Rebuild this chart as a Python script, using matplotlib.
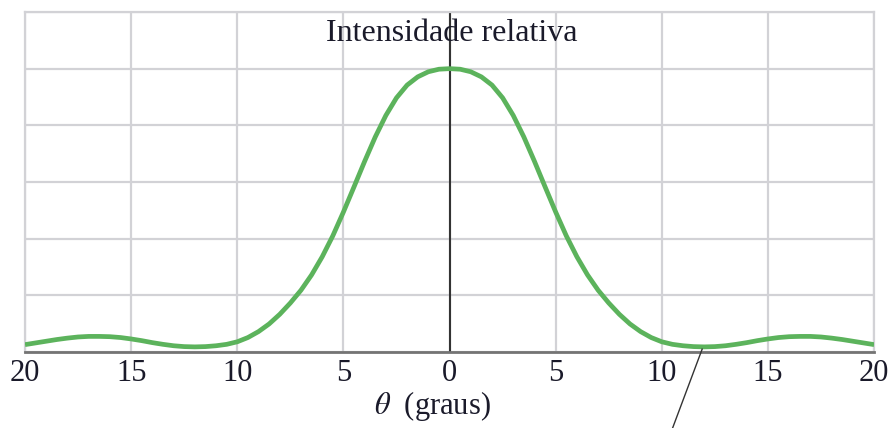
import matplotlib
matplotlib.use("Agg")
import matplotlib.pyplot as plt
import numpy as np

# angulo (graus) e intensidade relativa, de meio em meio grau
theta = [-20.0, -19.5, -19.0, -18.5, -18.0, -17.5, -17.0, -16.5, -16.0, -15.5, -15.0, -14.5,
         -14.0, -13.5, -13.0, -12.5, -12.0, -11.5, -11.0, -10.5, -10.0, -9.5, -9.0, -8.5,
         -8.0, -7.5, -7.0, -6.5, -6.0, -5.5, -5.0, -4.5, -4.0, -3.5, -3.0, -2.5, -2.0, -1.5,
         -1.0, -0.5, 0.0, 0.5, 1.0, 1.5, 2.0, 2.5, 3.0, 3.5, 4.0, 4.5, 5.0, 5.5, 6.0, 6.5,
         7.0, 7.5, 8.0, 8.5, 9.0, 9.5, 10.0, 10.5, 11.0, 11.5, 12.0, 12.5, 13.0, 13.5, 14.0,
         14.5, 15.0, 15.5, 16.0, 16.5, 17.0, 17.5, 18.0, 18.5, 19.0, 19.5, 20.0]
intensidade = [0.026, 0.032, 0.038, 0.044, 0.049, 0.053, 0.055, 0.055, 0.054, 0.051, 0.046,
               0.040, 0.033, 0.027, 0.022, 0.019, 0.018, 0.019, 0.022, 0.027, 0.036, 0.051,
               0.072, 0.099, 0.133, 0.173, 0.218, 0.272, 0.336, 0.410, 0.494, 0.583, 0.673,
               0.759, 0.835, 0.897, 0.942, 0.971, 0.989, 0.998, 1.0,
               0.998, 0.989, 0.971, 0.942, 0.897, 0.835, 0.759, 0.673, 0.583, 0.494, 0.410,
               0.336, 0.272, 0.218, 0.173, 0.133, 0.099, 0.072, 0.051, 0.036, 0.027, 0.022,
               0.019, 0.018, 0.019, 0.022, 0.027, 0.033, 0.040, 0.046, 0.051, 0.054, 0.055,
               0.055, 0.053, 0.049, 0.044, 0.038, 0.032, 0.026]

ticks_x = [-20, -15, -10, -5, 0, 5, 10, 15, 20]
ticks_x_rotulos = ["20", "15", "10", "5", "0", "5", "10", "15", "20"]
ticks_y = [0.0, 0.2, 0.4, 0.6, 0.8, 1.0, 1.2]

# seta que aponta para o primeiro minimo
seta_x = [11.9, 10.5]
seta_y = [0.01, -0.27]

plt.rcParams["font.family"] = ["Liberation Serif", "DejaVu Serif"]
plt.rcParams["mathtext.fontset"] = "stix"

fig = plt.figure(figsize=(8.91, 4.28), dpi=100)
ax = fig.add_axes([0.0281, 0.1776, 0.9529, 0.7944])

ax.set_xlim(-20, 20)
ax.set_ylim(0, 1.2)
ax.set_xticks(ticks_x)
ax.set_xticklabels(ticks_x_rotulos, fontsize=22, color="#1a1a2a")
ax.set_yticks(ticks_y)
ax.set_yticklabels([])
ax.tick_params(length=0, pad=5)
ax.grid(True, color="#d2d2d6", linewidth=1.6)
ax.set_axisbelow(True)

for lado in ["left", "right", "top"]:
    ax.spines[lado].set_color("#d2d2d6")
    ax.spines[lado].set_linewidth(1.6)
ax.spines["bottom"].set_color("#747474")
ax.spines["bottom"].set_linewidth(2.0)

# eixo vertical em theta = 0
ax.axvline(0, color="#333333", linewidth=1.5, zorder=2)

ax.plot(theta, intensidade, color="#5cb35c", linewidth=3.4, zorder=3,
        solid_capstyle="butt", solid_joinstyle="round")

ax.text(0.1, 1.098, "Intensidade relativa", ha="center", va="baseline", fontsize=23,
        color="#1a1a2a")
ax.text(-0.8, -0.219, r"$\theta$  (graus)", ha="center", va="baseline", fontsize=22,
        color="#1a1a2a")

ax.plot(seta_x, seta_y, color="#333333", linewidth=1.0, clip_on=False, zorder=4)

fig.savefig("out.png", dpi=100)
